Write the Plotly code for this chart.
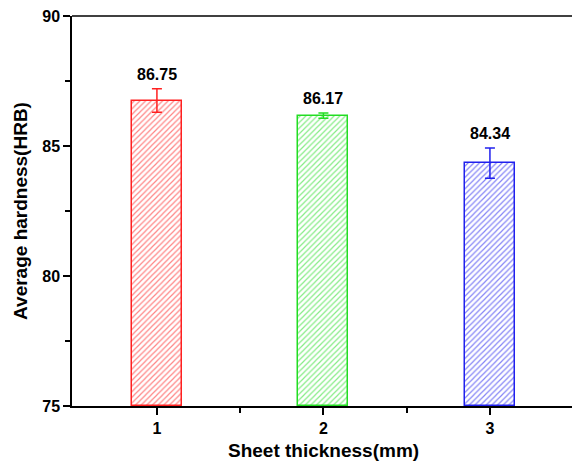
import plotly.graph_objects as go

categories = [1, 2, 3]
values = [86.75, 86.17, 84.34]
errors = [0.45, 0.10, 0.58]
labels = ["86.75", "86.17", "84.34"]
colors = ["#ff2020", "#22dd22", "#2020ee"]
y_ticks = [75, 80, 85, 90]

fig = go.Figure()
for x, v, e, c in zip(categories, values, errors, colors):
    fig.add_trace(go.Bar(
        x=[x], y=[v - 75], base=75, width=0.3,
        marker=dict(color="white", line=dict(color=c, width=1.5),
                    pattern=dict(shape="/", fgcolor=c, bgcolor="white", size=4, solidity=0.3, fgopacity=0.55)),
        error_y=dict(type="data", array=[e], color=c, thickness=1.5, width=5),
        showlegend=False,
    ))

for x, v, e, t in zip(categories, values, errors, labels):
    fig.add_annotation(x=x, y=v + e, text="<b>%s</b>" % t, showarrow=False,
                       yanchor="bottom", yshift=4,
                       font=dict(family="Liberation Sans, Arial", size=16, color="black"))

# x-axis title, centred under the middle category like the reference
fig.add_annotation(x=categories[1], xref="x", y=0, yref="paper", yanchor="top", yshift=-32,
                   text="<b>Sheet thickness(mm)</b>", showarrow=False,
                   font=dict(family="Liberation Sans, Arial", size=19, color="black"))

fig.add_shape(type="line", xref="paper", yref="paper", x0=0, x1=1, y0=1, y1=1,
              line=dict(color="black", width=1.5))

fig.update_layout(
    width=584, height=464,
    margin=dict(l=72, r=0, t=16, b=58),
    plot_bgcolor="white", paper_bgcolor="white",
    font=dict(family="Liberation Sans, Arial", color="black"),
    bargap=0,
)
fig.update_xaxes(
    range=[0.49, 3.565], tickvals=categories, ticktext=["<b>%d</b>" % c for c in categories],
    ticks="outside", ticklen=7, tickwidth=1.5, tickcolor="black",
    showline=True, linecolor="black", linewidth=1.5, mirror=False,
    showgrid=False, zeroline=False,
    tickfont=dict(size=16),
    minor=dict(tickvals=[1.5, 2.5, 3.5], ticks="outside", ticklen=5, tickwidth=1.5, tickcolor="black"),
)
fig.update_yaxes(
    range=[75, 90], tickvals=y_ticks, ticktext=["<b>%d</b>" % t for t in y_ticks],
    ticks="outside", ticklen=7, tickwidth=1.5, tickcolor="black",
    showline=True, linecolor="black", linewidth=1.5, mirror=False,
    showgrid=False, zeroline=False,
    tickfont=dict(size=16),
    minor=dict(tickvals=[77.5, 82.5, 87.5], ticks="outside", ticklen=5, tickwidth=1.5, tickcolor="black"),
    title=dict(text="<b>Average hardness(HRB)</b>", font=dict(size=19), standoff=10),
)

fig.write_html("out.html", config={"displayModeBar": False},
               post_script="document.body.style.margin='0';document.body.style.overflow='hidden';document.documentElement.style.overflow='hidden';")
